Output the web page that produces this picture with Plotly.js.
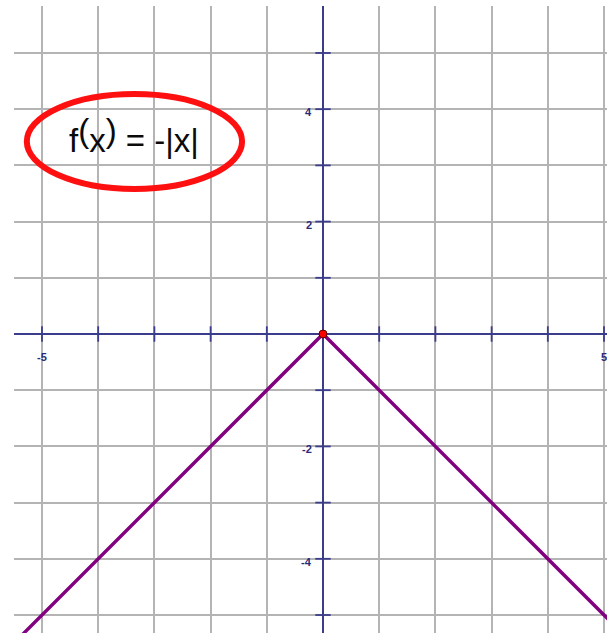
<!DOCTYPE html>
<html>
<head>
<meta charset="utf-8">
<script src="https://cdn.plot.ly/plotly-3.0.1.min.js"></script>
<style>html,body{margin:0;padding:0;background:#fff;}#chart{width:607px;height:633px;}</style>
</head>
<body>
<div id="chart"></div>
<script>
// function f(x) = -|x| : vertices of the graph
var lineX = [-6, 0, 6];
var lineY = [-6, 0, -6];
// highlighted point
var dotX = [0];
var dotY = [0];
// axis tick marks (every integer)
var tickX = [-5, -4, -3, -2, -1, 1, 2, 3, 4, 5];
var tickY = [-5, -4, -3, -2, -1, 1, 2, 3, 4, 5];
// labelled ticks
var xLabelVals = [-5, 5];
var xLabelText = ['-5', '5'];
var yLabelVals = [4, 2, -2, -4];
var yLabelText = ['4', '2', '-2', '-4'];
var titleText = 'f<span style="baseline-shift:10px">(</span>x<span style="baseline-shift:10px">)</span> = -|x|';

var axisColor = '#3c3c8c';
var labelColor = '#2a2a78';

var traces = [
  {x: tickX, y: tickX.map(function(){return 0;}), mode: 'markers', type: 'scatter',
   marker: {symbol: 'line-ns', size: 11, line: {color: axisColor, width: 1.8}}, hoverinfo: 'skip'},
  {x: tickY.map(function(){return 0;}), y: tickY, mode: 'markers', type: 'scatter',
   marker: {symbol: 'line-ew', size: 11, line: {color: axisColor, width: 1.8}}, hoverinfo: 'skip'},
  {x: lineX, y: lineY, mode: 'lines', type: 'scatter',
   line: {color: '#800080', width: 3.4}},
  {x: dotX, y: dotY, mode: 'markers', type: 'scatter',
   marker: {color: '#ff0000', size: 8, line: {color: '#5a0000', width: 1}}}
];

var labelFont = {family: 'Liberation Sans, Arial, sans-serif', size: 11, color: labelColor, weight: 'bold'};
var annotations = [];
xLabelVals.forEach(function(v, i){
  annotations.push({x: v, y: 0, xref: 'x', yref: 'y', text: xLabelText[i], showarrow: false,
    yshift: -23, xshift: 0, font: labelFont});
});
yLabelVals.forEach(function(v, i){
  annotations.push({x: 0, y: v, xref: 'x', yref: 'y', text: yLabelText[i], showarrow: false,
    xanchor: 'right', xshift: -9, yshift: -3, font: labelFont});
});
annotations.push({x: -3.37, y: 3.54, xref: 'x', yref: 'y', text: titleText, showarrow: false,
  font: {family: 'Liberation Sans, Arial, sans-serif', size: 33, color: '#0a0a0a'}});

var layout = {
  width: 607, height: 633,
  margin: {l: 14, r: 0, t: 6, b: 0, pad: 0},
  paper_bgcolor: '#ffffff', plot_bgcolor: '#ffffff',
  showlegend: false,
  xaxis: {range: [-5.498, 5.053], dtick: 1, tick0: 0, showgrid: true, gridcolor: '#b4b4b4', gridwidth: 2,
    zeroline: true, zerolinecolor: axisColor, zerolinewidth: 2, showticklabels: false, ticks: '', fixedrange: true},
  yaxis: {range: [-5.32, 5.836], dtick: 1, tick0: 0, showgrid: true, gridcolor: '#b4b4b4', gridwidth: 2,
    zeroline: true, zerolinecolor: axisColor, zerolinewidth: 2, showticklabels: false, ticks: '', fixedrange: true},
  annotations: annotations,
  shapes: [
    {type: 'circle', xref: 'x', yref: 'y', x0: -5.27, x1: -1.44, y0: 2.58, y1: 4.27,
     line: {color: '#ff1010', width: 6}}
  ]
};

Plotly.newPlot('chart', traces, layout, {staticPlot: true, displayModeBar: false});
</script>
</body>
</html>
